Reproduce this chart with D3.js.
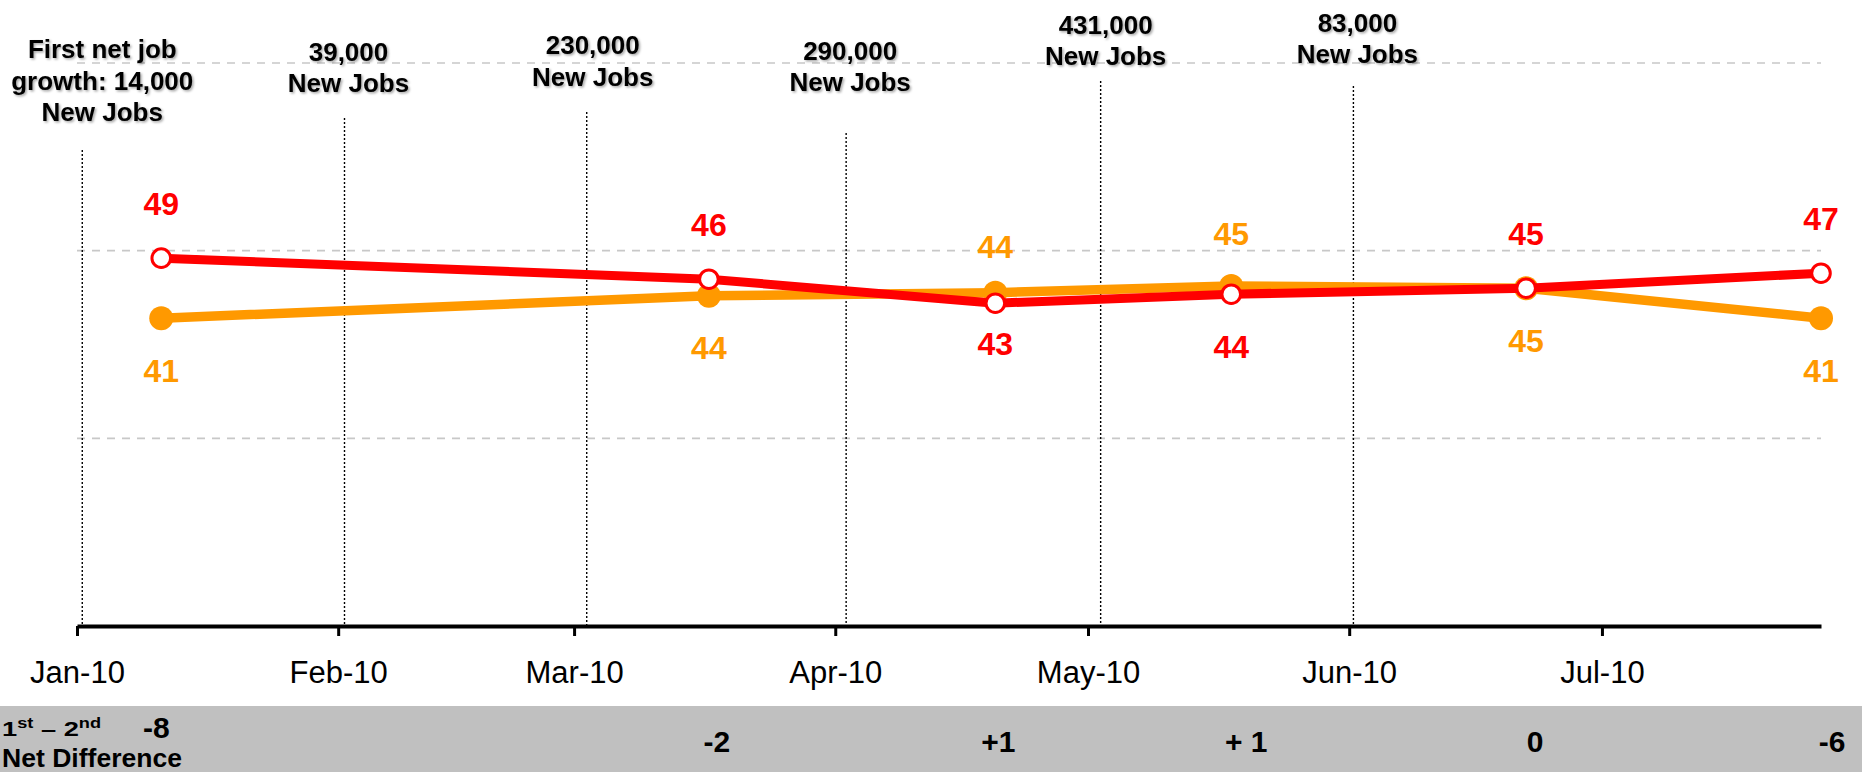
<!DOCTYPE html>
<html>
<head>
<meta charset="utf-8">
<script src="https://cdn.jsdelivr.net/npm/d3@7"></script>
<style>
  html, body { margin: 0; padding: 0; background: #fff; }
  svg { display: block; }
  text { font-family: "Liberation Sans", Arial, Helvetica, sans-serif; }
</style>
</head>
<body>
<svg id="chart" width="1862" height="772"></svg>
<script>
// ---------------- DATA ----------------
const pointDates = ["2010-01-11", "2010-03-17", "2010-04-20", "2010-05-18", "2010-06-22", "2010-07-27"];
const firstValues  = [41, 44, 44.4, 45.3, 45, 41];      // orange series (1st)
const secondValues = [49, 46.2, 43, 44.2, 45, 47];      // red series (2nd)
const netDiffLabels = ["-8", "-2", "+1", "+ 1", "0", "-6"];

const jobDates = ["2010-01-01T15:00", "2010-02-01T18:00", "2010-03-02T12:00",
                  "2010-04-02T07:00", "2010-05-02T12:00", "2010-06-01T12:00"];
const jobLabels = [
  ["First net job", "growth: 14,000", "New Jobs"],
  ["39,000", "New Jobs"],
  ["230,000", "New Jobs"],
  ["290,000", "New Jobs"],
  ["431,000", "New Jobs"],
  ["83,000", "New Jobs"]
];
const yGridValues = [25, 50, 75];
const xDomain = ["2010-01-01", "2010-07-27"];
const yDomain = [0, 75];

// ---------------- LAYOUT (not data) ----------------
const jobLabelDx = [20, 4, 6, 4, 5, 4];
const jobLabelFirstBaseline = [58, 60.5, 54, 59.5, 33.5, 31.5];
const jobLineTop = [150, 118, 112, 133, 81, 86];
const firstLabelDy  = [64, 63, -35, -41, 64, 64];
const secondLabelDy = [-43, -43, 52, 64, -43, -43];
const diffDx = [-5, 8, 3, 15, 9, 11];
const diffBaseline = [738, 752, 752, 752, 752, 752];

const RED = "#FF0000", ORANGE = "#FF9900";

// ---------------- CHART ----------------
const svg = d3.select("#chart");
const parseDay = d3.timeParse("%Y-%m-%d");
const parseTime = d3.timeParse("%Y-%m-%dT%H:%M");

const x = d3.scaleTime().domain(xDomain.map(parseDay)).range([77, 1821]);
const y = d3.scaleLinear().domain(yDomain).range([626, 63]);

const defs = svg.append("defs");
const f = defs.append("filter").attr("id", "shadow")
  .attr("x", "-10%").attr("y", "-10%").attr("width", "130%").attr("height", "140%");
f.append("feDropShadow").attr("dx", 1.5).attr("dy", 1.5).attr("stdDeviation", 0.8)
  .attr("flood-color", "#000").attr("flood-opacity", 0.35);

// bottom grey band
svg.append("rect").attr("x", 0).attr("y", 706).attr("width", 1862).attr("height", 66)
  .attr("fill", "#C0C0C0");

// gridlines
svg.append("g").selectAll("line").data(yGridValues).join("line")
  .attr("x1", x.range()[0]).attr("x2", x.range()[1])
  .attr("y1", d => y(d)).attr("y2", d => y(d))
  .attr("stroke", "#C8C8C8").attr("stroke-width", 1.6)
  .attr("stroke-dasharray", "8,7");

// job report dotted lines
const jobs = jobDates.map((d, i) => ({date: parseTime(d), lines: jobLabels[i], i}));
svg.append("g").selectAll("line").data(jobs).join("line")
  .attr("x1", d => x(d.date)).attr("x2", d => x(d.date))
  .attr("y1", d => jobLineTop[d.i]).attr("y2", y(0))
  .attr("stroke", "#000").attr("stroke-width", 1.4)
  .attr("stroke-dasharray", "2,2");

// x axis
const xAxis = d3.axisBottom(x)
  .ticks(d3.timeMonth.every(1))
  .tickFormat(d3.timeFormat("%b-%y"))
  .tickSize(10).tickSizeOuter(0);
const gx = svg.append("g").attr("transform", `translate(0,${y(0)})`).call(xAxis);
gx.select(".domain").attr("stroke", "#000").attr("stroke-width", 4);
gx.selectAll(".tick line").attr("stroke", "#000").attr("stroke-width", 3);
gx.selectAll(".tick text")
  .attr("y", 57).attr("dy", 0)
  .attr("font-size", 31).attr("fill", "#000")
  .style("font-family", '"Liberation Sans", Arial, sans-serif');

// series
const firstPts = pointDates.map((d, i) => ({date: parseDay(d), v: firstValues[i], i}));
const secondPts = pointDates.map((d, i) => ({date: parseDay(d), v: secondValues[i], i}));
const line = d3.line().x(d => x(d.date)).y(d => y(d.v));

svg.append("path").datum(firstPts).attr("d", line)
  .attr("fill", "none").attr("stroke", ORANGE).attr("stroke-width", 9.5)
  .attr("stroke-linejoin", "round");
svg.append("g").selectAll("circle").data(firstPts).join("circle")
  .attr("cx", d => x(d.date)).attr("cy", d => y(d.v)).attr("r", 12)
  .attr("fill", ORANGE);

svg.append("path").datum(secondPts).attr("d", line)
  .attr("fill", "none").attr("stroke", RED).attr("stroke-width", 9)
  .attr("stroke-linejoin", "round");
svg.append("g").selectAll("circle").data(secondPts).join("circle")
  .attr("cx", d => x(d.date)).attr("cy", d => y(d.v)).attr("r", 9.3)
  .attr("fill", "#fff").attr("stroke", RED).attr("stroke-width", 3);

// value labels
svg.append("g").selectAll("text").data(firstPts).join("text")
  .attr("x", d => x(d.date)).attr("y", d => y(d.v) + firstLabelDy[d.i])
  .attr("text-anchor", "middle").attr("font-size", 32).attr("font-weight", "bold")
  .attr("fill", ORANGE).text(d => Math.round(d.v));
svg.append("g").selectAll("text").data(secondPts).join("text")
  .attr("x", d => x(d.date)).attr("y", d => y(d.v) + secondLabelDy[d.i])
  .attr("text-anchor", "middle").attr("font-size", 32).attr("font-weight", "bold")
  .attr("fill", RED).text(d => Math.round(d.v));

// job annotations
const ag = svg.append("g").attr("filter", "url(#shadow)");
jobs.forEach(j => {
  const t = ag.append("text")
    .attr("text-anchor", "middle").attr("font-size", 26).attr("font-weight", "bold")
    .attr("fill", "#000");
  j.lines.forEach((ln, k) => {
    t.append("tspan")
      .attr("x", x(j.date) + jobLabelDx[j.i])
      .attr("y", jobLabelFirstBaseline[j.i] + k * 31.5)
      .text(ln);
  });
});

// net difference band
const hdr = svg.append("text")
  .attr("transform", "translate(2,736) scale(1.3,1)")
  .attr("font-size", 21).attr("font-weight", "bold").attr("fill", "#000");
hdr.append("tspan").text("1");
hdr.append("tspan").attr("font-size", 14).attr("dy", -8).text("st");
hdr.append("tspan").attr("dy", 8).text(" \u2013 2");
hdr.append("tspan").attr("font-size", 14).attr("dy", -8).text("nd");

svg.append("text").attr("x", 2).attr("y", 767)
  .attr("font-size", 25).attr("font-weight", "bold").attr("fill", "#000")
  .attr("textLength", 180).attr("lengthAdjust", "spacingAndGlyphs")
  .text("Net Difference");

svg.append("g").selectAll("text").data(pointDates.map((d, i) => ({date: parseDay(d), i})))
  .join("text")
  .attr("x", d => x(d.date) + diffDx[d.i]).attr("y", d => diffBaseline[d.i])
  .attr("text-anchor", "middle").attr("font-size", 30).attr("font-weight", "bold")
  .attr("fill", "#000").text(d => netDiffLabels[d.i]);
</script>
</body>
</html>
